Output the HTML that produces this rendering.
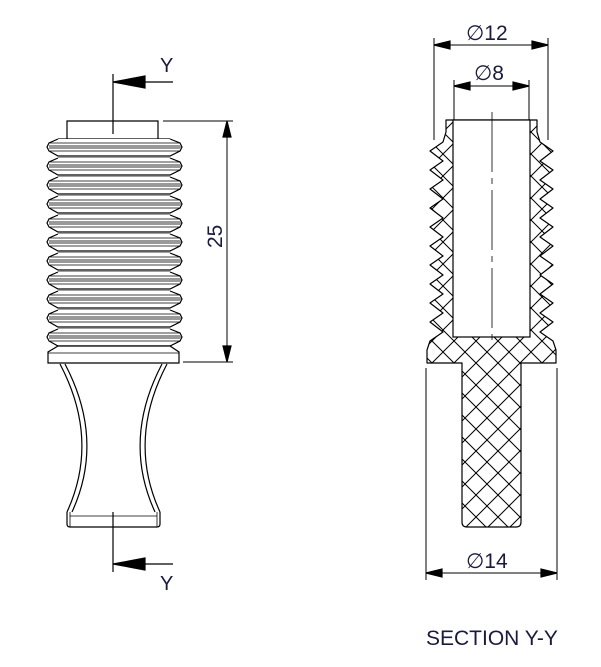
<!DOCTYPE html>
<html><head><meta charset="utf-8"><style>
html,body{margin:0;padding:0;background:#fff;}
svg{display:block;}
text{font-family:"Liberation Sans",sans-serif;fill:#1a1a40;}
</style></head><body>
<svg width="601" height="667" viewBox="0 0 601 667" xmlns="http://www.w3.org/2000/svg">
<defs>
<pattern id="h" width="22" height="22" patternUnits="userSpaceOnUse" x="3" y="0">
<path d="M0,0 L22,22 M22,0 L0,22" stroke="#000" stroke-width="1"/>
</pattern>
</defs>
<g fill="none" stroke="#000" stroke-width="1.2">
<line x1="113" y1="74" x2="113" y2="134"/>
<line x1="140" y1="82" x2="173" y2="82"/>
<polygon points="113,82 145,76 145,88" fill="#000"/>
<line x1="113" y1="512" x2="113" y2="572"/>
<line x1="140" y1="564" x2="173" y2="564"/>
<polygon points="113,564 145,558 145,570" fill="#000"/>
<line x1="163" y1="121" x2="233" y2="121" stroke-width="1"/>
<line x1="183" y1="362" x2="233" y2="362" stroke-width="1"/>
<line x1="227" y1="121" x2="227" y2="362" stroke-width="1"/>
<polygon points="227,121 223,137 231,137" fill="#000"/>
<polygon points="227,362 223,346 231,346" fill="#000"/>
<path d="M67,139 L67,121 L158,121 L158,139"/>
<line x1="58" y1="139" x2="170" y2="139"/>
<g id="rib">
<path d="M58,139 L49,143 L47,147 L49,151 L58,156 L170,156 L180,151 L182,147 L180,143 L170,139" fill="#fff"/>
<rect x="49" y="145" width="132" height="4" fill="#999" stroke="none"/>
<line x1="50" y1="143" x2="180" y2="143" stroke-width="0.8"/>
<line x1="50" y1="151" x2="180" y2="151" stroke-width="0.8"/>
<line x1="58" y1="158" x2="170" y2="158" stroke-width="0.8"/>
</g>
<use href="#rib" y="19"/><use href="#rib" y="38"/><use href="#rib" y="57"/><use href="#rib" y="76"/><use href="#rib" y="95"/><use href="#rib" y="114"/><use href="#rib" y="133"/><use href="#rib" y="152"/><use href="#rib" y="171"/><use href="#rib" y="190"/>
<path d="M58,346 L48,352 L48,363 L179,363 L179,352 L170,346 Z" fill="#fff"/>
<line x1="48" y1="353" x2="179" y2="353" stroke-width="0.8"/>
<path d="M60,364 Q100,440 67,512"/>
<path d="M65,364 Q105,440 72,512"/>
<path d="M167,364 Q127,440 160,512"/>
<path d="M162,364 Q122,440 155,512"/>
<path d="M67,512 L67,524 Q67,527 70,527 L157,527 Q160,527 160,524 L160,512"/>
<line x1="70" y1="516" x2="157" y2="516" stroke-width="0.8"/>
<line x1="70" y1="512" x2="70" y2="527" stroke-width="0.8"/>
<line x1="157" y1="512" x2="157" y2="527" stroke-width="0.8"/>
<path d="M446,120 L446,132 L443,142 L430,151 L443,161 L430,170 L443,180 L430,189 L443,199 L430,208 L443,218 L430,227 L443,237 L430,246 L443,256 L430,265 L443,275 L430,284 L443,294 L430,303 L443,313 L430,322 L443,332 L430,341 L427,350 L427,363 L462,363 L462,522 Q462,527 467,527 L516,527 Q521,527 521,522 L521,363 L556,363 L556,350 L553,341 L540,332 L553,322 L540,313 L553,303 L540,294 L553,284 L540,275 L553,265 L540,256 L553,246 L540,237 L553,227 L540,218 L553,208 L540,199 L553,189 L540,180 L553,170 L540,161 L553,151 L540,142 L537,132 L537,120 Z" fill="url(#h)" stroke-linejoin="round"/>
<rect x="453" y="120" width="77" height="217" fill="#fff"/>
<line x1="492" y1="112" x2="492" y2="340" stroke-width="0.8" stroke-dasharray="60,6,6,6"/>
<line x1="434" y1="38" x2="434" y2="140" stroke-width="1"/>
<line x1="548" y1="38" x2="548" y2="140" stroke-width="1"/>
<line x1="434" y1="45" x2="548" y2="45" stroke-width="1"/>
<polygon points="434,45 450,41 450,49" fill="#000"/>
<polygon points="548,45 532,41 532,49" fill="#000"/>
<line x1="454" y1="80" x2="454" y2="120" stroke-width="1"/>
<line x1="529" y1="80" x2="529" y2="120" stroke-width="1"/>
<line x1="454" y1="86" x2="529" y2="86" stroke-width="1"/>
<polygon points="454,86 470,82 470,90" fill="#000"/>
<polygon points="529,86 513,82 513,90" fill="#000"/>
<line x1="426" y1="368" x2="426" y2="580" stroke-width="1"/>
<line x1="557" y1="368" x2="557" y2="580" stroke-width="1"/>
<line x1="426" y1="573" x2="557" y2="573" stroke-width="1"/>
<polygon points="426,573 442,569 442,577" fill="#000"/>
<polygon points="557,573 541,569 541,577" fill="#000"/>
</g>
<text x="160" y="72" font-size="20">Y</text>
<text x="160" y="590" font-size="20">Y</text>
<text x="0" y="0" font-size="21" transform="translate(222,248) rotate(-90)">25</text>
<text x="466" y="40" font-size="21">∅12</text>
<text x="474" y="80" font-size="21">∅8</text>
<text x="466" y="568" font-size="21">∅14</text>
<text x="426" y="645" font-size="21">SECTION Y-Y</text>
</svg>
</body></html>
